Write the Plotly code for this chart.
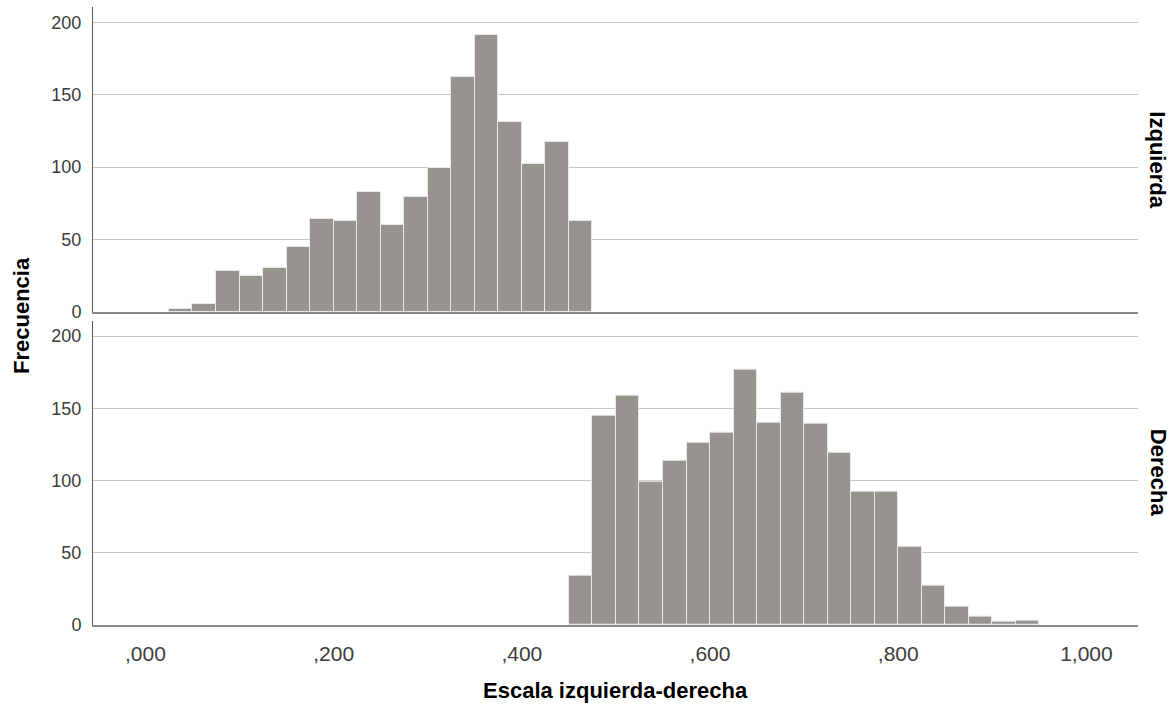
import plotly.graph_objects as go

# ---- data ----
bin_width = 0.025
izq_start = 0.025
izq_counts = [2, 5, 28, 25, 30, 45, 64, 63, 83, 60, 79, 99, 162, 191, 131, 102, 117, 63]
der_start = 0.45
der_counts = [34, 145, 159, 99, 114, 126, 133, 177, 140, 161, 139, 119, 92, 92, 54, 27, 13, 6, 2, 3]
panel_labels = ["Izquierda", "Derecha"]
x_tickvals = [0, 0.2, 0.4, 0.6, 0.8, 1.0]
x_ticktext = [",000", ",200", ",400", ",600", ",800", "1,000"]
y_tickvals = [0, 50, 100, 150, 200]

def centers(start, n):
    return [start + bin_width * (i + 0.5) for i in range(n)]

BAR = "#97938f"
EDGE = "#e8e8e8"
GRID = "#c6c6c6"
YAXIS = "#5a5a5a"
XAXIS = "#8a8a8a"
FONT = "Liberation Sans, Arial, sans-serif"
TICKCOL = "#3c3c3c"

fig = go.Figure()
fig.add_trace(go.Bar(x=centers(izq_start, len(izq_counts)), y=izq_counts,
                     width=bin_width, marker=dict(color=BAR, line=dict(color=EDGE, width=1)),
                     xaxis="x", yaxis="y", showlegend=False))
fig.add_trace(go.Bar(x=centers(der_start, len(der_counts)), y=der_counts,
                     width=bin_width, marker=dict(color=BAR, line=dict(color=EDGE, width=1)),
                     xaxis="x2", yaxis="y2", showlegend=False))

xr = [-0.0557, 1.0548]
yr = [0, 210.6]
common_y = dict(range=yr, tickvals=y_tickvals, showgrid=True, gridcolor=GRID, gridwidth=1,
                showline=True, linecolor=YAXIS, linewidth=1, zeroline=False,
                ticks="outside", ticklen=7, tickcolor="rgba(0,0,0,0)",
                tickfont=dict(family=FONT, size=18, color=TICKCOL))

fig.update_layout(
    width=1174, height=704,
    margin=dict(l=93, r=36, t=7, b=79),
    paper_bgcolor="white", plot_bgcolor="white",
    bargap=0,
    xaxis=dict(range=xr, domain=[0, 1], anchor="y", showticklabels=False, showgrid=False,
               showline=True, linecolor=XAXIS, linewidth=2, zeroline=False, ticks=""),
    yaxis=dict(domain=[0.507, 1], anchor="x", **common_y),
    xaxis2=dict(range=xr, domain=[0, 1], anchor="y2", tickvals=x_tickvals, ticktext=x_ticktext,
                showgrid=False, showline=True, linecolor=XAXIS, linewidth=2, zeroline=False,
                ticks="outside", ticklen=9, tickcolor="rgba(0,0,0,0)",
                tickfont=dict(family=FONT, size=21, color=TICKCOL)),
    yaxis2=dict(domain=[0, 0.4924], anchor="x2", **common_y),
    annotations=[
        dict(text="<b>" + panel_labels[0] + "</b>", textangle=90, x=1.0, xref="paper", xshift=20,
             xanchor="center", yanchor="middle",
             y=0.7535, yref="paper", showarrow=False, font=dict(family=FONT, size=22, color="black")),
        dict(text="<b>" + panel_labels[1] + "</b>", textangle=90, x=1.0, xref="paper", xshift=20,
             xanchor="center", yanchor="middle",
             y=0.2462, yref="paper", showarrow=False, font=dict(family=FONT, size=22, color="black")),
        dict(text="<b>Frecuencia</b>", textangle=-90, x=0, xref="paper", xshift=-72,
             xanchor="center", yanchor="middle",
             y=0.5, yref="paper", showarrow=False, font=dict(family=FONT, size=22, color="black")),
        dict(text="<b>Escala izquierda-derecha</b>", x=0.5, xref="paper", y=0, yref="paper",
             xanchor="center", yanchor="middle",
             yshift=-65, showarrow=False, font=dict(family=FONT, size=22, color="black")),
    ],
)

fig.write_html("out.html", config={"displayModeBar": False},
               post_script="document.body.style.margin='0';document.body.style.overflow='hidden';")
